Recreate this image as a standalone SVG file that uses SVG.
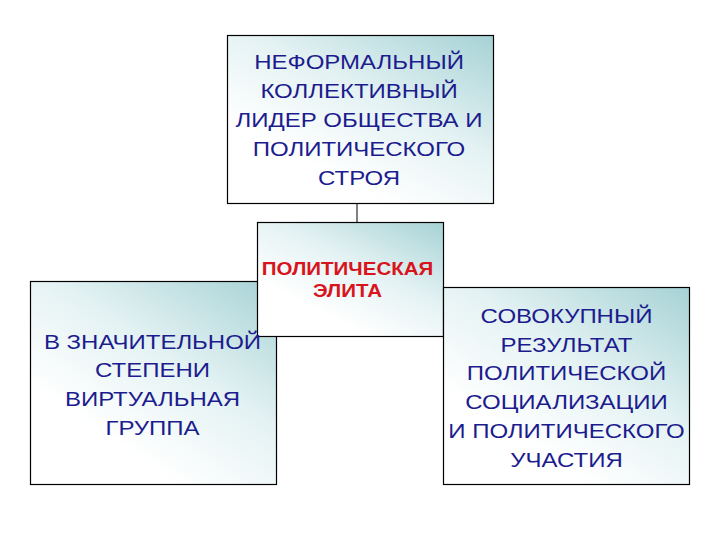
<svg xmlns="http://www.w3.org/2000/svg" width="720" height="540" viewBox="0 0 720 540">
<defs>
<linearGradient id="g" x1="1" y1="0" x2="0.35" y2="0.8">
<stop offset="0" stop-color="#a6d2d5"/>
<stop offset="0.55" stop-color="#e4f2f3"/>
<stop offset="1" stop-color="#ffffff"/>
</linearGradient>
<style>
.box{fill:url(#g);stroke:#000;stroke-width:1.2}
.t{font-family:"Liberation Sans",Arial,sans-serif;font-size:20px;fill:#1c1c8e;text-anchor:middle}
.r{font-family:"Liberation Sans",Arial,sans-serif;font-size:18px;font-weight:bold;fill:#d8141c;text-anchor:middle}
.c{stroke:#808080;stroke-width:2;fill:none}
</style>
</defs>
<rect width="720" height="540" fill="#fff"/>
<g id="connectors">
<line class="c" x1="357" y1="203" x2="357" y2="222"/>
</g>
<g id="top">
<rect class="box" x="227.5" y="35.5" width="266" height="168"/>
<g transform="translate(359 0) scale(1.2 1)">
<text class="t" x="0" y="69.5">НЕФОРМАЛЬНЫЙ</text>
<text class="t" x="0" y="98.5">КОЛЛЕКТИВНЫЙ</text>
<text class="t" x="0" y="127.5">ЛИДЕР ОБЩЕСТВА И</text>
<text class="t" x="0" y="156.5">ПОЛИТИЧЕСКОГО</text>
<text class="t" x="0" y="185.5">СТРОЯ</text>
</g>
</g>
<g id="left">
<rect class="box" x="30.5" y="281.5" width="246" height="203"/>
</g>
<g id="elite">
<rect class="box" x="257.5" y="222.5" width="186" height="114"/>
<g transform="translate(347.5 0) scale(1.14 1)">
<text class="r" x="0" y="275">ПОЛИТИЧЕСКАЯ</text>
<text class="r" x="0" y="297">ЭЛИТА</text>
</g>
</g>
<g id="left-text" transform="translate(152.5 0) scale(1.2 1)">
<text class="t" x="0" y="349">В ЗНАЧИТЕЛЬНОЙ</text>
<text class="t" x="0" y="377">СТЕПЕНИ</text>
<text class="t" x="0" y="406">ВИРТУАЛЬНАЯ</text>
<text class="t" x="0" y="435">ГРУППА</text>
</g>
<g id="right">
<rect class="box" x="443.5" y="287.5" width="246" height="197"/>
<g transform="translate(566.5 0) scale(1.2 1)">
<text class="t" x="0" y="323">СОВОКУПНЫЙ</text>
<text class="t" x="0" y="352">РЕЗУЛЬТАТ</text>
<text class="t" x="0" y="380">ПОЛИТИЧЕСКОЙ</text>
<text class="t" x="0" y="409">СОЦИАЛИЗАЦИИ</text>
<text class="t" x="0" y="438">И ПОЛИТИЧЕСКОГО</text>
<text class="t" x="0" y="467">УЧАСТИЯ</text>
</g>
</g>
</svg>
